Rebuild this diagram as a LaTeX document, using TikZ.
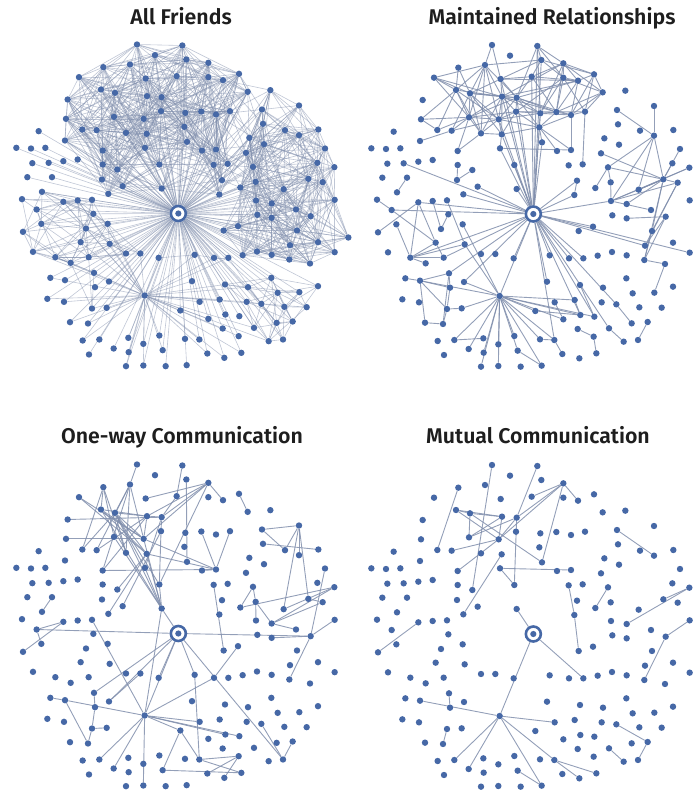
\documentclass[tikz,border=0pt]{standalone}
\usepackage{fontspec}
\setmainfont{Fira Sans}
\newfontfamily\titlefont{Fira Sans SemiBold}
\pgfdeclarelayer{edgelayer}
\pgfsetlayers{edgelayer,main}
\definecolor{dotc}{RGB}{70,104,166}
\definecolor{edgec}{RGB}{128,142,172}
\definecolor{titlec}{RGB}{30,30,30}
\tikzset{
  dot/.style={circle,fill=dotc,draw=none,inner sep=0pt,minimum size=6.4pt},
  egonode/.style={circle,draw=dotc,line width=2.6pt,fill=white,inner sep=0pt,minimum size=15pt,
    path picture={\fill[dotc] (path picture bounding box.center) circle (3.1pt);}},
  edge/.style={draw=edgec,line width=0.9pt,opacity=0.85},
  lightedge/.style={draw=edgec,line width=0.6pt,opacity=0.5},
  paneltitle/.style={font=\titlefont\fontsize{21.3}{25}\selectfont,text=titlec,anchor=base,inner sep=0pt},
  panel/.style={x=0.33333pt,y=-0.33333pt}
}
\def\nodelist{1/411/45,2/547/48,3/465/77,4/559/90,5/625/100,6/390/105,7/310/113,8/717/133,9/530/140,10/625/143,11/237/143,12/437/147,13/669/152,14/303/180,15/743/187,16/345/190,17/441/200,18/485/203,19/203/210,20/483/245,21/604/246,22/690/245,23/556/250,24/648/255,25/342/262,26/198/268,27/431/268,28/553/292,29/247/300,30/290/302,31/378/310,32/440/313,33/195/333,34/561/337,35/435/355,36/308/363,37/606/363,38/648/360,39/308/405,40/478/405,41/641/406,42/683/403,43/352/420,44/306/450,45/666/452,46/368/470,47/485/477,48/325/493,49/658/495,50/811/182,51/897/228,52/786/240,53/789/283,54/855/302,55/955/300,56/897/317,57/748/325,58/792/344,59/975/357,60/738/370,61/952/400,62/759/412,63/1003/413,64/925/448,65/767/457,66/968/458,67/721/474,68/851/479,69/1004/511,70/768/513,71/815/522,72/888/540,73/772/556,74/932/560,75/815/565,76/891/603,77/954/638,78/870/647,79/771/666,80/1004/668,81/815/676,82/868/690,83/930/702,85/728/677,86/714/590,87/671/603,88/116/305,89/49/355,90/93/357,91/136/355,92/190/395,93/233/390,94/97/401,95/146/400,96/82/443,97/156/443,98/126/487,99/66/509,100/233/513,101/276/511,102/190/517,103/110/540,104/280/553,105/124/583,106/323/583,107/258/597,108/69/607,109/242/638,110/329/643,111/99/667,112/166/683,113/266/683,114/212/700,115/378/672,116/421/672,117/584/676,118/476/685,119/642/685,120/685/685,121/282/730,122/151/745,123/195/752,124/327/756,125/285/773,126/142/808,127/192/817,128/276/837,129/320/835,130/210/878,131/264/882,132/248/933,133/298/930,134/267/975,135/341/957,136/385/925,137/386/968,138/378/1010,139/430/943,140/430/1008,141/478/918,142/488/962,143/497/1010,144/555/928,145/560/1007,146/598/930,147/622/972,148/673/985,149/724/970,150/716/920,151/668/897,152/625/868,153/676/855,154/718/860,155/541/843,156/599/817,157/659/810,158/576/755,159/675/765,160/744/773,161/740/817,162/784/823,163/814/745,164/833/790,165/898/788,166/954/770,167/853/832,168/920/833,169/878/876,170/830/880,171/762/895,172/806/935,173/849/930,174/434/798}
\foreach \n/\x/\y in \nodelist{\expandafter\xdef\csname nx\n\endcsname{\x}\expandafter\xdef\csname ny\n\endcsname{\y}}
\expandafter\def\csname nx84\endcsname{1045}\expandafter\def\csname ny84\endcsname{624}
\expandafter\def\csname nx0\endcsname{535}\expandafter\def\csname ny0\endcsname{552}
\newcommand\placenodes[1]{%
  \foreach \n/\x/\y in \nodelist {\node[dot] (#1\n) at (\x,\y) {};}%
  \node[egonode] (#10) at (535,552) {};}
\newcommand\edgelist[2]{\begin{pgfonlayer}{edgelayer}\foreach \u/\v in {#2}{\draw[edge] (#1\u) -- (#1\v);}\end{pgfonlayer}}
\newcommand\clusteredges[4]{%
  \begin{pgfonlayer}{edgelayer}%
  \foreach \i in {#2}{\foreach \j in {#2}{%
    \ifnum\i<\j\relax
      \edef\xa{\csname nx\i\endcsname}\edef\ya{\csname ny\i\endcsname}%
      \edef\xb{\csname nx\j\endcsname}\edef\yb{\csname ny\j\endcsname}%
      \pgfmathveclen{\xa-\xb}{\ya-\yb}%
      \ifdim\pgfmathresult pt<#3pt\relax
        \pgfmathtruncatemacro\rr{mod(\i*37+\j*17,10)}%
        \ifnum\rr<#4\relax \draw[lightedge] (#1\i) -- (#1\j);\fi
      \fi
    \fi}}%
  \end{pgfonlayer}}
\newcommand\staredges[5]{%
  \begin{pgfonlayer}{edgelayer}%
  \foreach \j in {#3}{%
    \edef\xa{\csname nx#2\endcsname}\edef\ya{\csname ny#2\endcsname}%
    \edef\xb{\csname nx\j\endcsname}\edef\yb{\csname ny\j\endcsname}%
    \pgfmathveclen{\xa-\xb}{\ya-\yb}%
    \ifdim\pgfmathresult pt<#4pt\relax
      \pgfmathtruncatemacro\rr{mod(#2*13+\j*29,10)}%
      \ifnum\rr<#5\relax \draw[lightedge] (#1#2) -- (#1\j);\fi
    \fi}%
  \end{pgfonlayer}}
\begin{document}
\begin{tikzpicture}
\useasboundingbox (0,0) rectangle (693pt,-790pt);
% titles
\node[paneltitle] (t1) at (181pt,-24pt) {All Friends};
\node[paneltitle] (t2) at (552pt,-24pt) {Maintained Relationships};
\node[paneltitle] (t3) at (182pt,-443pt) {One-way Communication};
\node[paneltitle] (t4) at (538pt,-443pt) {Mutual Communication};
% ---------------- panel 1: All Friends
\begin{scope}[shift={(0pt,-29.5pt)},panel]
  \placenodes{a}
  \node[dot] (a84) at (1045,624) {};
  \begin{pgfonlayer}{edgelayer}
    \foreach \i in {1,...,174}{\draw[lightedge] (a0) -- (a\i);}
  \end{pgfonlayer}
  \clusteredges{a}{1,...,49}{270}{8}
  \clusteredges{a}{50,...,87}{250}{8}
  \clusteredges{a}{13,15,8,22,24,38,42,41,45,49,50,52,53,57,58,60,62,65,67}{200}{5}
  \clusteredges{a}{98,...,116}{180}{7}
  \clusteredges{a}{112,113,114,121,...,131}{170}{8}
  \clusteredges{a}{117,...,120,132,...,162}{180}{6}
  \clusteredges{a}{158,...,173}{160}{6}
  \staredges{a}{174}{98,...,173}{400}{7}
\end{scope}
% ---------------- panel 2: Maintained Relationships
\begin{scope}[shift={(355pt,-30pt)},panel]
  \placenodes{b}
  \edgelist{b}{1/6,1/12,2/4,2/5,2/10,2/18,2/23,6/4,6/14,6/16,6/17,6/11,6/18,6/25,6/27,6/31,4/12,4/9,4/10,4/8,5/13,5/10,5/8,5/15,5/9,5/17,5/23,5/21,8/15,8/13,8/24,8/22,15/22,15/24,15/10,15/21,11/14,11/16,11/25,11/17,7/16,7/14,12/17,12/18,12/16,12/13,12/9,9/18,9/21,9/13,10/23,10/21,10/20,10/22,10/13,13/21,13/24,13/18,13/17,14/17,14/25,14/27,14/31,14/29,14/26,16/17,16/18,16/25,16/27,16/31,16/32,16/30,17/18,17/20,17/27,17/25,17/23,17/32,17/31,17/21,18/20,18/27,18/23,18/28,18/21,18/25,18/24,20/27,20/23,20/32,20/28,20/21,20/25,23/21,23/28,23/24,23/27,21/24,21/22,21/28,24/22,24/28,25/27,25/30,25/31,25/26,25/29,27/31,27/32,27/28,27/30,28/32,28/34,28/37,31/32,31/36,32/35,35/38,36/25,38/28,38/24,42/22,39/44,44/43,26/29,33/30}
  \edgelist{b}{0/2,0/4,0/9,0/12,0/17,0/18,0/20,0/23,0/27,0/28,0/32,0/34,0/35,0/40,0/47,0/46,0/48,0/95,0/103,0/102,0/112,0/113,0/121,0/124,0/118,0/117,0/119,0/120,0/158,0/153,0/154,0/171,0/162,0/146,0/174,0/80,0/78,0/86,0/45,0/49,0/70}
  \edgelist{b}{97/98,99/103,103/109,102/109,102/112,102/108,104/107,101/110,110/174,105/112,109/112,109/113,112/113,112/114,110/112,106/174,100/107,123/122,123/121,123/125,123/128,123/130,121/125,125/128,128/131,128/129,130/131,123/174,124/174,129/174,121/131}
  \edgelist{b}{174/133,174/135,174/137,174/138,174/139,174/140,174/141,174/142,174/144,174/145,174/155,174/157,174/153,174/154,174/152,174/146,133/136,142/145,144/146,146/147,150/149,151/150,155/153,157/153,152/156,159/154}
  \edgelist{b}{52/56,51/56,56/62,56/70,56/68,56/64,62/64,62/65,62/67,65/70,70/64,70/66,70/63,70/72,71/64,68/64,68/63,64/59,64/61,64/66,64/76,64/82,66/78,66/76,74/78,74/82,75/74,76/82,82/83,83/165,60/64,45/49,162/170,171/172,169/173}
\end{scope}
% ---------------- panel 3: One-way Communication
\begin{scope}[shift={(0pt,-449.5pt)},panel]
  \placenodes{c}
  \edgelist{c}{1/6,2/9,5/12,5/13,5/18,5/17,5/40,5/27,4/34,9/18,7/14,7/25,7/29,7/31,6/16,6/31,6/27,6/30,6/36,11/27,11/32,19/18,26/27,29/16,30/17,16/17,16/27,16/31,16/32,16/40,16/35,14/17,14/32,14/27,17/18,17/27,17/36,18/35,18/20,20/40,21/38,22/38,27/38,32/38,36/38,37/38,43/32,47/14,47/16,47/25,47/27,47/32,47/35,47/40,46/20,48/32,8/15}
  \edgelist{c}{0/47,0/103,0/74,0/121,0/124,0/117,0/118,0/173,0/174,117/146}
  \edgelist{c}{52/51,52/54,51/54,51/56,51/64,51/68,53/55,62/67,62/65,65/70,67/63,65/71,71/72,71/63,71/66,68/63,64/66,75/74,74/69,74/82,59/74,86/119,41/87}
  \edgelist{c}{101/174,122/123,123/174,121/125,125/128,123/131,128/131,128/129,174/133,174/135,174/140,174/155,174/154,174/153,174/156,174/119,174/47,155/142,155/146,146/150,146/149,142/149,147/150,148/150,124/116,162/173,169/173,103/102,103/105,102/108,97/98}
\end{scope}
% ---------------- panel 4: Mutual Communication
\begin{scope}[shift={(355pt,-450pt)},panel]
  \placenodes{d}
  \edgelist{d}{0/47,0/120,0/174,1/43,2/18,5/9,5/13,5/34,5/18,5/27,7/29,14/16,14/17,14/27,16/17,16/25,16/34,17/25,18/25,27/17,27/18,27/30,18/40,35/38,35/40,32/48,36/27,41/49,49/87,52/56,62/67,63/64,63/71,69/74,74/82,102/108,121/125,123/174,174/156,174/133,174/135,174/145,174/146,146/148,146/149,142/145,128/131,162/169,169/173,171/172}
\end{scope}
\end{tikzpicture}
\end{document}
